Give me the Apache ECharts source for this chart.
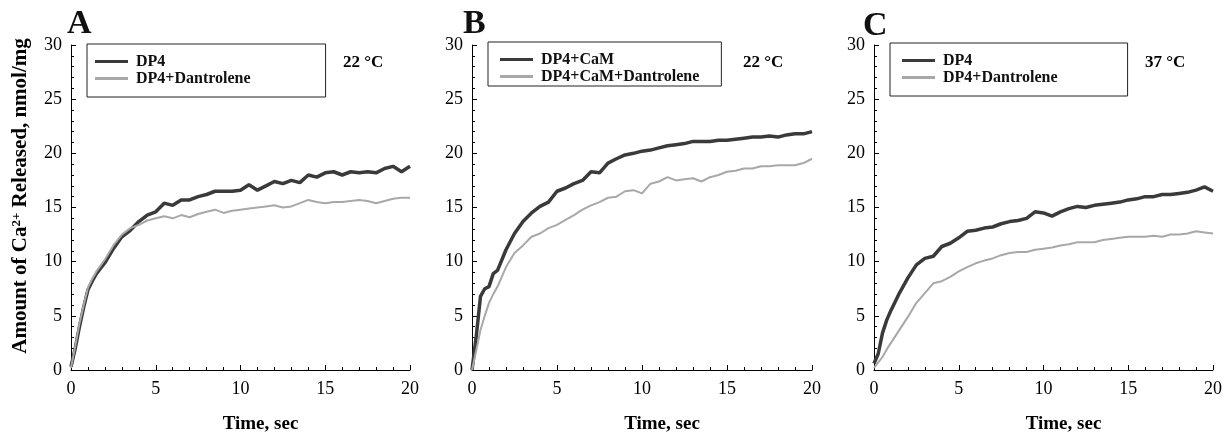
<!DOCTYPE html>
<html>
<head>
<meta charset="utf-8">
<script src="https://cdn.jsdelivr.net/npm/echarts@6/dist/echarts.min.js"></script>
<style>
html,body{margin:0;padding:0;background:#fff;}
#chart{width:1227px;height:435px;}
</style>
</head>
<body>
<div id="chart"></div>
<script>
// Time points (sec)
const time = [0,0.25,0.5,0.75,1,1.25,1.5,2,2.5,3,3.5,4,4.5,5,5.5,6,6.5,7,7.5,8,8.5,9,9.5,10,10.5,11,11.5,12,12.5,13,13.5,14,14.5,15,15.5,16,16.5,17,17.5,18,18.5,19,19.5,20];

// Panel A (22 °C)
const aDP4 = [0.3,2.0,4.0,5.8,7.4,8.2,8.9,9.9,11.2,12.3,12.9,13.7,14.3,14.6,15.4,15.2,15.7,15.7,16.0,16.2,16.5,16.5,16.5,16.6,17.1,16.6,17.0,17.4,17.2,17.5,17.3,18.0,17.8,18.2,18.3,18.0,18.3,18.2,18.3,18.2,18.6,18.8,18.3,18.8];
const aDP4Dan = [0.2,2.2,4.3,6.0,7.6,8.4,9.1,10.2,11.5,12.5,13.1,13.4,13.8,14.0,14.2,14.0,14.3,14.1,14.4,14.6,14.8,14.5,14.7,14.8,14.9,15.0,15.1,15.2,15.0,15.1,15.4,15.7,15.5,15.4,15.5,15.5,15.6,15.7,15.6,15.4,15.6,15.8,15.9,15.9];

// Panel B (22 °C)
const bDP4CaM = [0,3.1,6.8,7.5,7.7,8.9,9.2,11.1,12.6,13.7,14.5,15.1,15.5,16.5,16.8,17.2,17.5,18.3,18.2,19.1,19.5,19.85,20.0,20.2,20.3,20.5,20.7,20.8,20.9,21.1,21.1,21.1,21.2,21.2,21.3,21.4,21.5,21.5,21.6,21.5,21.7,21.8,21.8,22.0];
const bDP4CaMDan = [0,1.8,3.7,5.0,6.2,7.0,7.7,9.5,10.8,11.5,12.3,12.6,13.1,13.4,13.85,14.3,14.8,15.2,15.5,15.9,16.0,16.5,16.6,16.3,17.2,17.4,17.8,17.5,17.6,17.7,17.4,17.8,18.0,18.3,18.4,18.6,18.6,18.8,18.8,18.9,18.9,18.9,19.1,19.5];

// Panel C (37 °C)
const cDP4 = [0.6,1.5,3.4,4.6,5.5,6.3,7.1,8.5,9.7,10.3,10.5,11.4,11.7,12.2,12.8,12.9,13.1,13.2,13.5,13.7,13.8,14.0,14.6,14.5,14.2,14.6,14.9,15.1,15.0,15.2,15.3,15.4,15.5,15.7,15.8,16.0,16.0,16.2,16.2,16.3,16.4,16.6,16.9,16.5];
const cDP4Dan = [0.2,0.7,1.2,1.9,2.5,3.1,3.7,4.9,6.2,7.1,8.0,8.2,8.6,9.1,9.5,9.85,10.1,10.3,10.6,10.8,10.9,10.9,11.1,11.2,11.3,11.5,11.6,11.8,11.8,11.8,12.0,12.1,12.2,12.3,12.3,12.3,12.4,12.3,12.5,12.5,12.6,12.8,12.7,12.6];

const panelLetters = ['A','B','C'];
const temps = ['22 °C','22 °C','37 °C'];
const legendNames = [['DP4','DP4+Dantrolene'],['DP4+CaM','DP4+CaM+Dantrolene'],['DP4','DP4+Dantrolene']];
const panelSeries = [[aDP4,aDP4Dan],[bDP4CaM,bDP4CaMDan],[cDP4,cDP4Dan]];
const xTitle = 'Time, sec';

const SERIF = '"Liberation Serif", "DejaVu Serif", serif';
const DARK = '#3a3a3a', LIGHT = '#a8a8a8';

const grids = [
  {left:71, top:45, width:339, height:325, outerBoundsMode:'none', containLabel:false},
  {left:472, top:45, width:340, height:325, outerBoundsMode:'none', containLabel:false},
  {left:874, top:45, width:339, height:325, outerBoundsMode:'none', containLabel:false}
];
const legendPos = [
  {left:87, top:44, padding:[9,75,10,8]},
  {left:488, top:42, padding:[9,22,1,12]},
  {left:890, top:43, padding:[9,70,10,12]}
];
const tempX = [343, 743, 1145];
const letterPos = [[67,24],[463,24],[863,26]];

function pairs(vals){ return time.map((t,i)=>[t, vals[i]]); }

const xAxes = [], yAxes = [], series = [], legends = [], graphics = [];
grids.forEach((g,i)=>{
  xAxes.push({
    type:'value', gridIndex:i, min:0, max:20, interval:5,
    name:xTitle, nameLocation:'middle', nameGap:45,
    nameTextStyle:{fontFamily:SERIF, fontWeight:'bold', fontSize:19, color:'#000', padding:[0,0,0,40]},
    axisLine:{show:true, onZero:false, lineStyle:{color:'#000', width:1}},
    axisTick:{show:true, inside:true, length:5, lineStyle:{color:'#000'}},
    minorTick:{show:true, splitNumber:5, length:3, lineStyle:{color:'#000'}},
    splitLine:{show:false},
    axisLabel:{fontFamily:SERIF, fontSize:18, color:'#000', margin:10}
  });
  yAxes.push({
    type:'value', gridIndex:i, min:0, max:30, interval:5,
    axisLine:{show:true, onZero:false, lineStyle:{color:'#000', width:1}},
    axisTick:{show:true, inside:true, length:5, lineStyle:{color:'#000'}},
    minorTick:{show:true, splitNumber:5, length:3, lineStyle:{color:'#000'}},
    splitLine:{show:false},
    axisLabel:{fontFamily:SERIF, fontSize:18, color:'#000', margin:9}
  });
  const [dark, light] = panelSeries[i];
  series.push({
    name:legendNames[i][0], type:'line', xAxisIndex:i, yAxisIndex:i,
    data:pairs(dark), showSymbol:false, symbol:'none', smooth:false,
    lineStyle:{color:DARK, width:3.5}, itemStyle:{color:DARK}, z:2
  });
  series.push({
    name:legendNames[i][1], type:'line', xAxisIndex:i, yAxisIndex:i,
    data:pairs(light), showSymbol:false, symbol:'none', smooth:false,
    lineStyle:{color:LIGHT, width:2}, itemStyle:{color:LIGHT}, z:3
  });
  legends.push(Object.assign({
    data:[
      {name:legendNames[i][0], icon:'rect', itemStyle:{color:DARK}},
      {name:legendNames[i][1], icon:'rect', itemStyle:{color:LIGHT}}
    ],
    orient:'vertical', itemGap:0, itemWidth:33, itemHeight:3,
    borderColor:'#222', borderWidth:1, backgroundColor:'#fff',
    selectedMode:false,
    textStyle:{fontFamily:SERIF, fontWeight:'bold', fontSize:16, lineHeight:17, color:'#111', padding:[0,0,0,3]}
  }, legendPos[i]));
  graphics.push({
    type:'text', left:tempX[i], top:54,
    style:{text:temps[i], fontFamily:SERIF, fontWeight:'bold', fontSize:17, fill:'#000'}
  });
  graphics.push({
    type:'text', x:letterPos[i][0], y:letterPos[i][1],
    style:{text:panelLetters[i], fontFamily:SERIF, fontWeight:'bold', fontSize:34, fill:'#111', align:'left', verticalAlign:'middle'}
  });
});

graphics.push({
  type:'text', x:21, y:196, rotation:Math.PI/2,
  style:{
    text:'Amount of Ca{sup|2+} Released, nmol/mg',
    fontFamily:SERIF, fontWeight:'bold', fontSize:21, fill:'#000',
    align:'center', verticalAlign:'middle',
    rich:{sup:{fontFamily:SERIF, fontWeight:'bold', fontSize:13, fill:'#000', verticalAlign:'top', padding:[0,0,8,0]}}
  }
});

const chart = echarts.init(document.getElementById('chart'), null, {renderer:'canvas'});
chart.setOption({
  animation:false,
  backgroundColor:'#fff',
  grid:grids,
  xAxis:xAxes,
  yAxis:yAxes,
  legend:legends,
  series:series,
  graphic:graphics
});
</script>
</body>
</html>
